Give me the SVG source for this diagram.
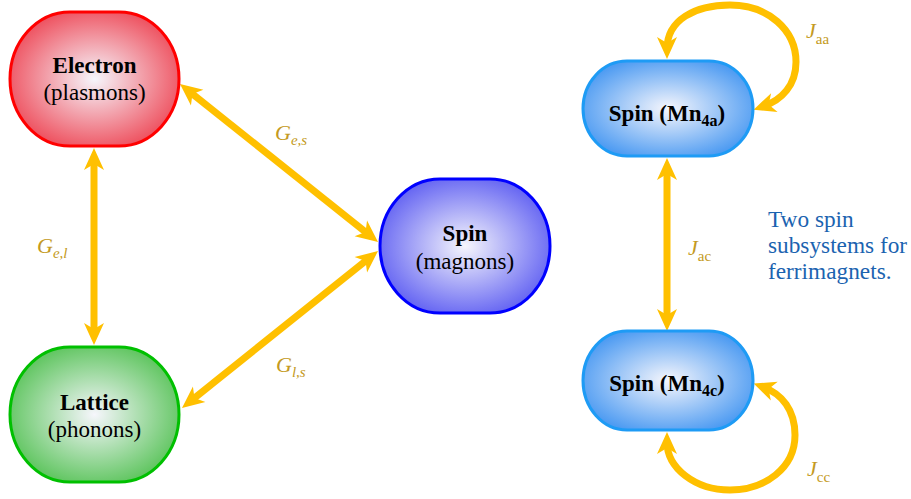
<svg xmlns="http://www.w3.org/2000/svg" width="911" height="499" viewBox="0 0 911 499" font-family="'Liberation Serif', 'Times New Roman', Times, serif">
<style>
.node{stroke-width:3}
.t{font-size:23px;fill:#000;text-anchor:middle}
.b{font-weight:bold}
.conn{fill:none;stroke:#FFC000;stroke-width:7;marker-start:url(#ah);marker-end:url(#ah)}
.lab{font-size:22px;fill:#C49A22;font-style:italic}
.sub{font-size:15px}
.rm{font-style:normal}
.note{font-size:23.3px;fill:#1B63B0}
</style>
<defs>
<marker id="ah" viewBox="-14 -11 26 22" refX="0" refY="0" markerWidth="26" markerHeight="22" markerUnits="userSpaceOnUse" orient="auto-start-reverse">
<path d="M10,0 L-12,-10 L-6,0 L-12,10 Z" fill="#FFC000"/>
</marker>
<radialGradient id="gr" cx="50%" cy="50%" r="55%"><stop offset="0" stop-color="#F6F6FC"/><stop offset="1" stop-color="#EE4E5C"/></radialGradient>
<radialGradient id="gg" cx="50%" cy="50%" r="55%"><stop offset="0" stop-color="#F6F6FC"/><stop offset="1" stop-color="#5CC45C"/></radialGradient>
<radialGradient id="gb" cx="50%" cy="50%" r="55%"><stop offset="0" stop-color="#F6F6FC"/><stop offset="1" stop-color="#6262F2"/></radialGradient>
<radialGradient id="gm" cx="50%" cy="50%" r="55%"><stop offset="0" stop-color="#F6F6FC"/><stop offset="1" stop-color="#4F9CF2"/></radialGradient>
</defs>
<g id="connectors">
<path class="conn" d="M94,158 L94,335"/>
<path class="conn" d="M187.8,90.2 L370.2,235.8"/>
<path class="conn" d="M189.8,401.7 L370.2,257.3"/>
<path class="conn" d="M667,168 L667,321"/>
<path class="conn" d="M667,49 C667,20 695,5 730,5 C768,5 796,30 796,62 C796,85 782,100 763,106.5"/>
<path class="conn" d="M763,387 C782,394 795,410 795,435 C795,468 765,490 730,490 C695,490 667,468 667,442"/>
</g>
<g id="electron">
<rect class="node" x="10" y="12" width="169" height="134" rx="60" ry="67" fill="url(#gr)" stroke="#FF0000"/>
<text class="t b" x="94.5" y="73">Electron</text>
<text class="t" x="94.5" y="100">(plasmons)</text>
</g>
<g id="lattice">
<rect class="node" x="10" y="347" width="169" height="135" rx="60" ry="67.5" fill="url(#gg)" stroke="#00C000"/>
<text class="t b" x="94.5" y="410">Lattice</text>
<text class="t" x="94.5" y="437">(phonons)</text>
</g>
<g id="spin">
<rect class="node" x="380" y="179" width="170" height="134" rx="60" ry="67" fill="url(#gb)" stroke="#0000FF"/>
<text class="t b" x="465" y="241">Spin</text>
<text class="t" x="465" y="269">(magnons)</text>
</g>
<g id="mn4a">
<rect class="node" x="583" y="61" width="170" height="95" rx="44" ry="47.5" fill="url(#gm)" stroke="#1E9BF5"/>
<text class="t b" x="667" y="121">Spin (Mn<tspan font-size="16" dy="5">4a</tspan><tspan dy="-5">)</tspan></text>
</g>
<g id="mn4c">
<rect class="node" x="583" y="331" width="170" height="99" rx="44" ry="49.5" fill="url(#gm)" stroke="#1E9BF5"/>
<text class="t b" x="667" y="391">Spin (Mn<tspan font-size="16" dy="5">4c</tspan><tspan dy="-5">)</tspan></text>
</g>
<g id="labels">
<text class="lab" x="275" y="140">G<tspan class="sub" dy="5">e,s</tspan></text>
<text class="lab" x="37" y="253">G<tspan class="sub" dy="5">e,l</tspan></text>
<text class="lab" x="276" y="372">G<tspan class="sub" dy="5">l,s</tspan></text>
<text class="lab" x="806" y="38">J<tspan class="sub rm" dy="6">aa</tspan></text>
<text class="lab" x="688" y="255">J<tspan class="sub rm" dy="6">ac</tspan></text>
<text class="lab" x="807" y="476">J<tspan class="sub rm" dy="6">cc</tspan></text>
</g>
<g id="note">
<text class="note" x="768" y="227">Two spin</text>
<text class="note" x="768" y="253">subsystems for</text>
<text class="note" x="768" y="279">ferrimagnets.</text>
</g>
</svg>
